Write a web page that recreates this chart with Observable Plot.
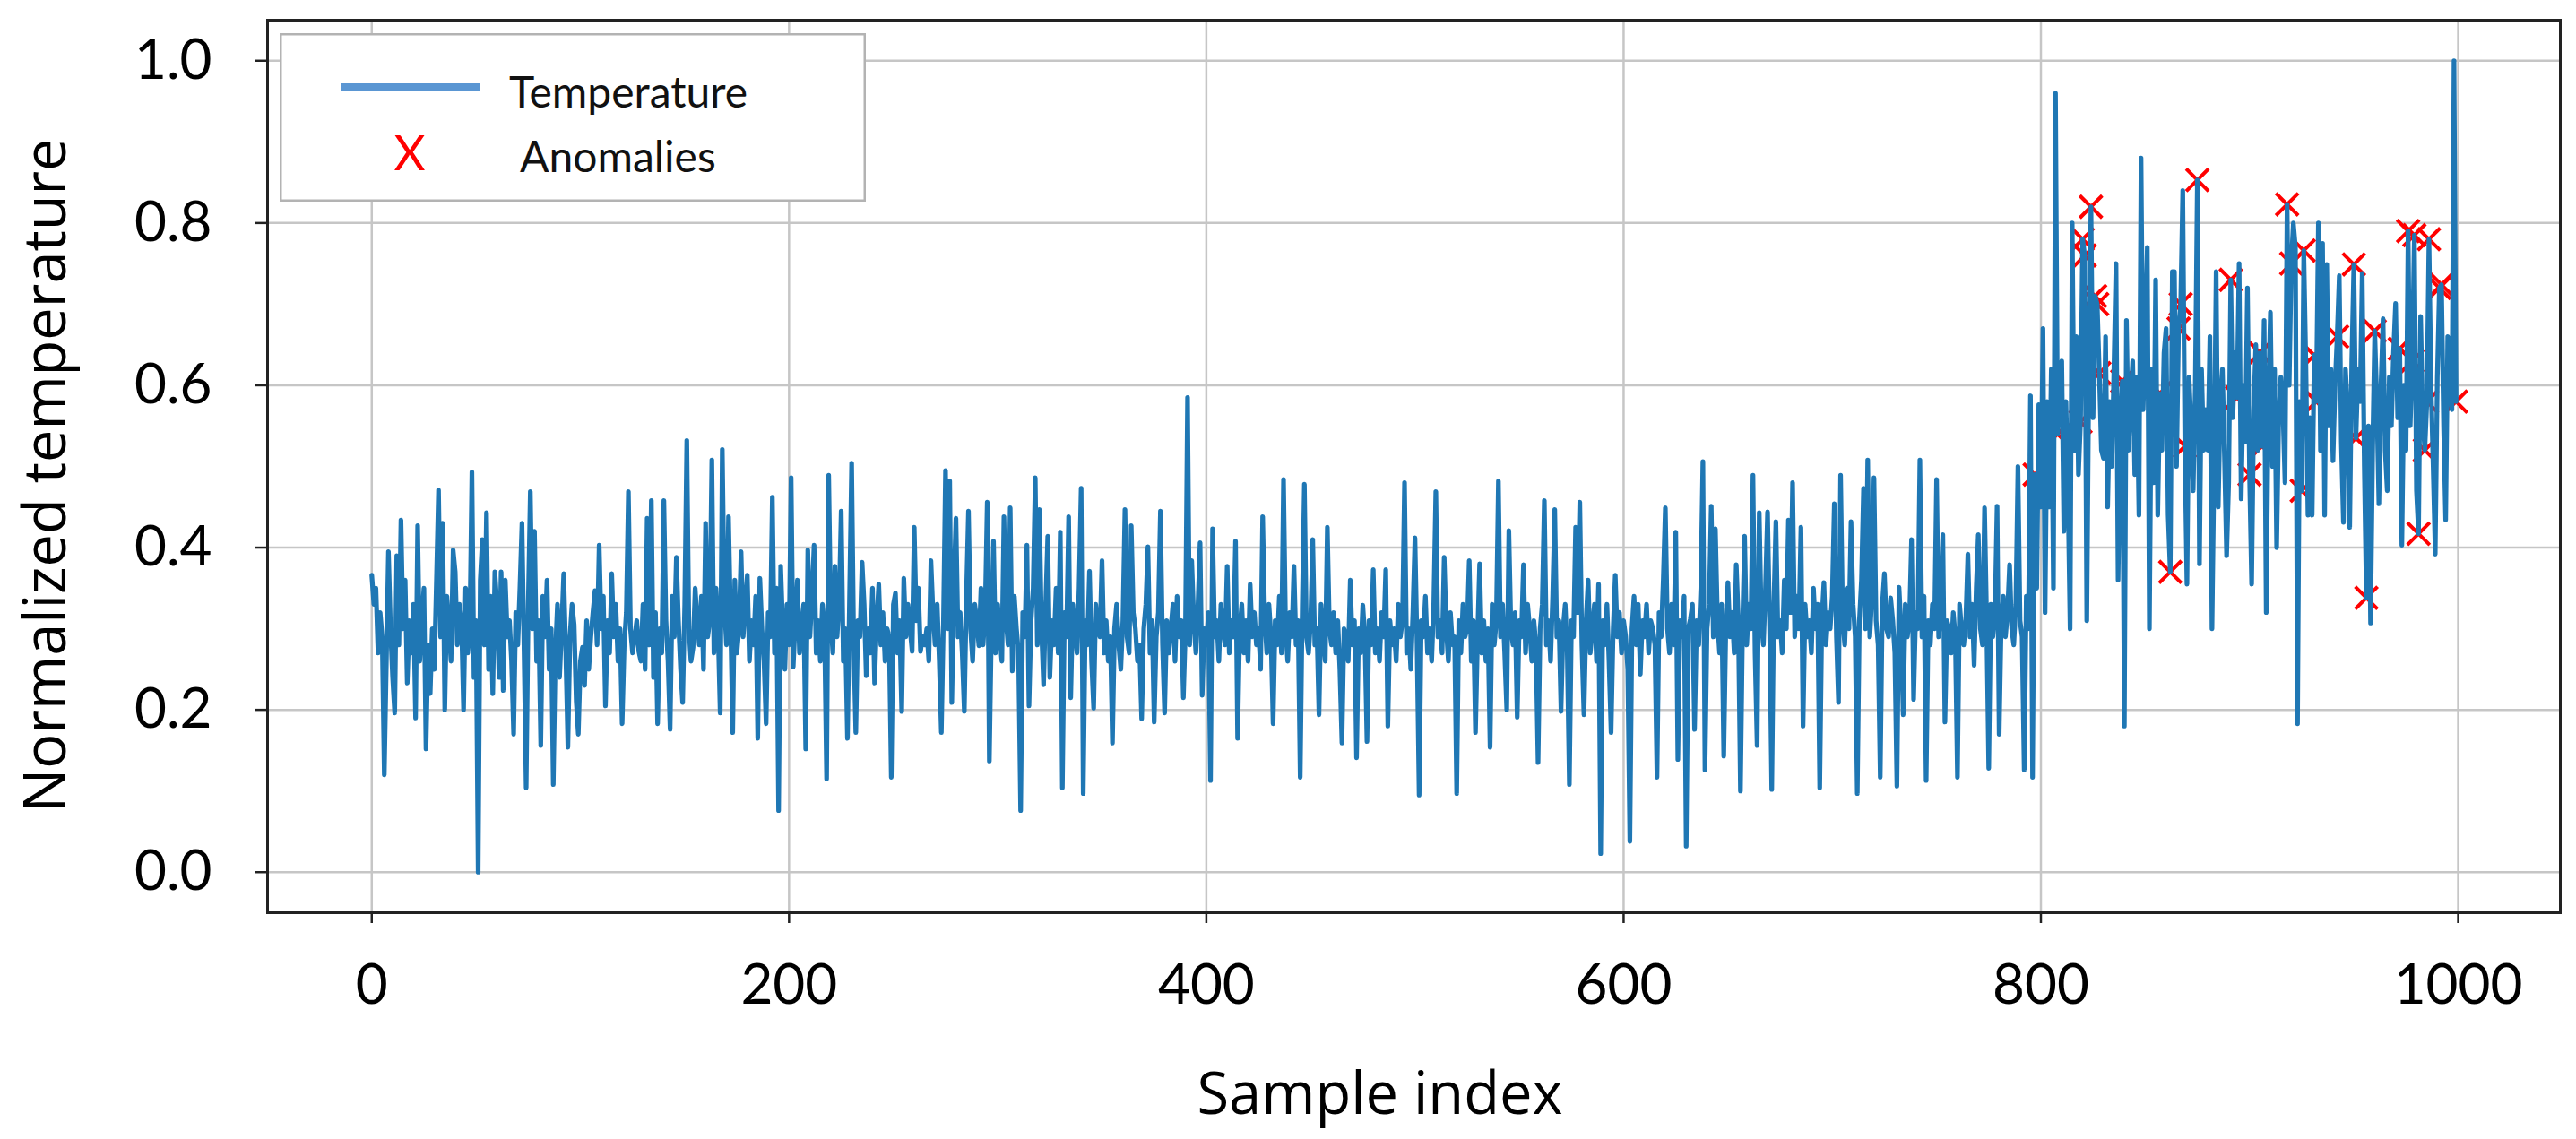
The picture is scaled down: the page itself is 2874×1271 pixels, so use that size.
<!DOCTYPE html>
<html>
<head>
<meta charset="utf-8">
<script src="https://cdn.jsdelivr.net/npm/d3@7"></script>
<script src="https://cdn.jsdelivr.net/npm/@observablehq/plot@0.6"></script>
<style>
  html, body { margin: 0; padding: 0; background: #ffffff; }
  #wrap { position: relative; width: 2874px; height: 1271px; background: #ffffff; }
  #legend { position: absolute; left: 312px; top: 37px; }
</style>
</head>
<body>
<div id="wrap"></div>
<script>
// Normalized temperature, samples 0..999
const temperature = [
  0.366,0.33,0.35,0.27,0.32,0.29,0.12,0.26,0.395,0.30,
  0.24,0.196,0.39,0.28,0.434,0.30,0.36,0.233,0.31,0.27,
  0.33,0.19,0.427,0.26,0.31,0.35,0.152,0.28,0.22,0.30,
  0.25,0.36,0.471,0.29,0.43,0.20,0.34,0.30,0.26,0.397,
  0.37,0.28,0.33,0.31,0.20,0.35,0.27,0.30,0.493,0.24,
  0.31,0.0,0.36,0.41,0.28,0.443,0.25,0.34,0.22,0.37,
  0.33,0.24,0.37,0.224,0.36,0.29,0.31,0.26,0.17,0.32,
  0.28,0.35,0.43,0.27,0.104,0.33,0.469,0.30,0.42,0.26,
  0.31,0.156,0.34,0.29,0.36,0.25,0.30,0.108,0.27,0.33,
  0.24,0.30,0.368,0.27,0.154,0.29,0.33,0.305,0.21,0.17,
  0.26,0.277,0.23,0.31,0.25,0.29,0.32,0.347,0.28,0.403,
  0.30,0.34,0.205,0.31,0.27,0.368,0.29,0.33,0.26,0.30,
  0.183,0.28,0.32,0.469,0.30,0.27,0.29,0.31,0.272,0.26,
  0.33,0.25,0.436,0.28,0.458,0.24,0.32,0.183,0.30,0.27,
  0.458,0.31,0.26,0.176,0.34,0.29,0.388,0.31,0.25,0.209,
  0.33,0.532,0.30,0.26,0.277,0.35,0.31,0.28,0.34,0.25,
  0.43,0.29,0.31,0.508,0.27,0.35,0.30,0.196,0.521,0.33,
  0.28,0.438,0.31,0.172,0.36,0.27,0.30,0.395,0.29,0.33,
  0.366,0.26,0.31,0.28,0.34,0.165,0.362,0.30,0.26,0.183,
  0.32,0.29,0.462,0.27,0.35,0.076,0.377,0.30,0.25,0.33,
  0.28,0.486,0.253,0.31,0.36,0.27,0.30,0.33,0.152,0.397,
  0.29,0.34,0.403,0.27,0.31,0.26,0.33,0.30,0.115,0.489,
  0.31,0.27,0.377,0.29,0.33,0.445,0.26,0.30,0.165,0.34,
  0.504,0.28,0.172,0.31,0.29,0.382,0.33,0.242,0.30,0.27,
  0.35,0.233,0.31,0.355,0.28,0.32,0.26,0.30,0.29,0.117,
  0.33,0.344,0.27,0.31,0.198,0.362,0.29,0.33,0.30,0.272,
  0.425,0.31,0.35,0.272,0.29,0.28,0.30,0.26,0.384,0.32,
  0.28,0.33,0.26,0.172,0.31,0.495,0.30,0.482,0.209,0.35,
  0.436,0.29,0.32,0.27,0.198,0.34,0.445,0.30,0.26,0.33,
  0.31,0.279,0.35,0.28,0.32,0.456,0.137,0.30,0.408,0.27,
  0.33,0.29,0.26,0.438,0.31,0.28,0.449,0.248,0.34,0.30,
  0.27,0.076,0.32,0.29,0.403,0.205,0.31,0.35,0.486,0.28,
  0.447,0.30,0.231,0.33,0.414,0.24,0.31,0.28,0.35,0.27,
  0.419,0.104,0.32,0.29,0.438,0.215,0.33,0.30,0.27,0.35,
  0.473,0.097,0.31,0.28,0.371,0.26,0.202,0.33,0.30,0.29,
  0.384,0.27,0.31,0.26,0.29,0.159,0.30,0.33,0.28,0.25,
  0.31,0.447,0.29,0.27,0.427,0.32,0.30,0.26,0.28,0.189,
  0.30,0.33,0.401,0.27,0.31,0.185,0.29,0.32,0.445,0.28,
  0.196,0.31,0.27,0.30,0.33,0.26,0.34,0.29,0.31,0.215,
  0.30,0.585,0.28,0.384,0.31,0.27,0.33,0.406,0.218,0.30,
  0.28,0.32,0.113,0.423,0.29,0.31,0.26,0.33,0.30,0.28,
  0.377,0.27,0.31,0.29,0.408,0.165,0.30,0.33,0.27,0.31,
  0.26,0.355,0.29,0.32,0.28,0.30,0.25,0.438,0.31,0.27,
  0.33,0.29,0.183,0.31,0.28,0.34,0.27,0.484,0.30,0.26,
  0.32,0.29,0.377,0.28,0.31,0.117,0.33,0.478,0.29,0.27,
  0.31,0.41,0.28,0.30,0.194,0.33,0.29,0.26,0.425,0.30,
  0.28,0.32,0.27,0.31,0.25,0.159,0.30,0.29,0.26,0.36,
  0.28,0.31,0.141,0.30,0.27,0.329,0.29,0.161,0.31,0.28,
  0.373,0.27,0.30,0.26,0.32,0.29,0.373,0.18,0.31,0.28,
  0.30,0.26,0.33,0.29,0.31,0.48,0.27,0.30,0.25,0.32,
  0.412,0.28,0.095,0.31,0.29,0.34,0.27,0.30,0.26,0.33,
  0.469,0.29,0.31,0.27,0.388,0.30,0.26,0.32,0.28,0.29,
  0.097,0.31,0.27,0.33,0.29,0.30,0.384,0.26,0.31,0.172,
  0.29,0.38,0.27,0.31,0.26,0.30,0.154,0.33,0.28,0.31,
  0.482,0.29,0.33,0.27,0.20,0.421,0.30,0.28,0.32,0.191,
  0.31,0.29,0.379,0.27,0.33,0.30,0.26,0.31,0.28,0.135,
  0.30,0.33,0.458,0.28,0.31,0.26,0.34,0.447,0.29,0.31,
  0.198,0.30,0.33,0.27,0.108,0.31,0.29,0.425,0.32,0.456,
  0.28,0.194,0.31,0.36,0.27,0.30,0.33,0.26,0.355,0.023,
  0.31,0.28,0.33,0.26,0.172,0.30,0.366,0.29,0.32,0.27,
  0.31,0.29,0.25,0.038,0.30,0.34,0.28,0.33,0.244,0.31,
  0.29,0.33,0.27,0.31,0.30,0.28,0.117,0.32,0.29,0.36,
  0.449,0.30,0.27,0.33,0.28,0.419,0.139,0.31,0.29,0.34,
  0.032,0.30,0.312,0.33,0.176,0.31,0.28,0.35,0.506,0.126,
  0.30,0.33,0.451,0.29,0.423,0.31,0.27,0.33,0.143,0.30,
  0.357,0.29,0.32,0.27,0.379,0.31,0.10,0.30,0.414,0.28,
  0.33,0.30,0.489,0.27,0.156,0.443,0.31,0.28,0.35,0.444,
  0.30,0.102,0.33,0.432,0.29,0.31,0.27,0.36,0.30,0.434,
  0.32,0.48,0.29,0.34,0.30,0.425,0.18,0.33,0.29,0.31,
  0.27,0.35,0.30,0.33,0.104,0.31,0.357,0.28,0.32,0.30,
  0.34,0.454,0.29,0.209,0.489,0.31,0.28,0.35,0.30,0.432,
  0.33,0.29,0.097,0.31,0.36,0.473,0.30,0.508,0.29,0.34,
  0.486,0.31,0.28,0.117,0.33,0.368,0.30,0.29,0.338,0.31,
  0.27,0.106,0.351,0.30,0.194,0.33,0.29,0.31,0.41,0.213,
  0.32,0.30,0.508,0.29,0.34,0.113,0.31,0.28,0.33,0.30,
  0.484,0.29,0.32,0.416,0.185,0.31,0.30,0.27,0.32,0.29,
  0.117,0.33,0.30,0.28,0.31,0.392,0.29,0.33,0.255,0.35,
  0.416,0.30,0.28,0.449,0.31,0.128,0.33,0.29,0.32,0.451,
  0.17,0.31,0.34,0.29,0.32,0.379,0.30,0.28,0.33,0.50,
  0.31,0.29,0.126,0.34,0.30,0.587,0.117,0.49,0.35,0.576,
  0.45,0.67,0.32,0.58,0.45,0.62,0.35,0.96,0.54,0.60,
  0.63,0.42,0.58,0.47,0.30,0.80,0.52,0.66,0.49,0.555,
  0.78,0.76,0.31,0.62,0.82,0.56,0.71,0.70,0.615,0.52,
  0.51,0.66,0.45,0.58,0.50,0.62,0.75,0.36,0.55,0.605,
  0.18,0.68,0.52,0.58,0.63,0.49,0.61,0.44,0.88,0.57,
  0.66,0.77,0.30,0.62,0.48,0.73,0.44,0.59,0.52,0.64,
  0.67,0.44,0.37,0.74,0.74,0.50,0.67,0.70,0.84,0.525,
  0.355,0.61,0.55,0.47,0.60,0.853,0.38,0.62,0.52,0.57,
  0.52,0.66,0.30,0.50,0.74,0.45,0.58,0.62,0.51,0.39,
  0.48,0.73,0.56,0.64,0.585,0.75,0.46,0.60,0.53,0.72,
  0.49,0.355,0.57,0.65,0.52,0.64,0.525,0.68,0.32,0.58,
  0.69,0.50,0.62,0.40,0.56,0.61,0.57,0.48,0.823,0.60,
  0.75,0.80,0.77,0.183,0.58,0.47,0.766,0.625,0.44,0.56,
  0.44,0.637,0.58,0.80,0.52,0.775,0.44,0.749,0.55,0.62,
  0.507,0.60,0.66,0.735,0.53,0.431,0.62,0.57,0.425,0.63,
  0.749,0.535,0.62,0.58,0.738,0.50,0.338,0.55,0.307,0.52,
  0.667,0.58,0.454,0.60,0.682,0.52,0.47,0.61,0.55,0.64,
  0.701,0.56,0.645,0.403,0.60,0.52,0.79,0.55,0.63,0.785,
  0.47,0.417,0.685,0.56,0.52,0.58,0.78,0.60,0.50,0.392,
  0.61,0.72,0.724,0.55,0.434,0.66,0.611,0.57,1.0,0.58
];

// Sample indices flagged as anomalies (red x markers)
const anomalyIndex = [797, 808, 819, 820, 821, 824, 826, 827, 828, 839, 857, 862, 866, 867, 869,
  875, 891, 894, 900, 905, 906, 918, 920, 925, 926, 931, 932, 942, 950, 951, 956, 960, 972,
  976, 978, 979, 981, 984, 985, 986, 991, 992, 999];

const xTicks = [0, 200, 400, 600, 800, 1000];
const xTickLabels = ["0", "200", "400", "600", "800", "1000"];
const yTicks = [0, 0.2, 0.4, 0.6, 0.8, 1.0];
const yTickLabels = ["0.0", "0.2", "0.4", "0.6", "0.8", "1.0"];
const seriesNames = ["Temperature", "Anomalies"];
const xLabel = "Sample index";
const yLabel = "Normalized temperature";

const series = temperature.map((v, i) => ({i, v}));
const anomalies = anomalyIndex.map(i => ({i, v: temperature[i]}));

const chart = Plot.plot({
  width: 2874,
  height: 1271,
  marginLeft: 298,
  marginRight: 18,
  marginTop: 22,
  marginBottom: 253,
  style: {fontFamily: "Lato, 'Liberation Sans', sans-serif", fontSize: "62px", background: "#ffffff", color: "#000000"},
  x: {domain: [-49.95, 1048.95]},
  y: {domain: [-0.05, 1.05]},
  marks: [
    Plot.gridX(xTicks, {stroke: "#c6c6c6", strokeOpacity: 1, strokeWidth: 2.5}),
    Plot.gridY(yTicks, {stroke: "#c6c6c6", strokeOpacity: 1, strokeWidth: 2.5}),
    Plot.dot(anomalies, {x: "i", y: "v", symbol: "times", r: 11.4, stroke: "#ff0000", strokeWidth: 4, fill: "none"}),
    Plot.line(series, {x: "i", y: "v", stroke: "#1f77b4", strokeWidth: 5.2, strokeLinejoin: "round"}),
    Plot.frame({stroke: "#222222", strokeWidth: 3}),
    Plot.axisX(xTicks, {tickSize: 12, tickPadding: 45, strokeWidth: 2.5, stroke: "#222222", label: null,
      tickFormat: d => xTickLabels[xTicks.indexOf(d)]}),
    Plot.axisY(yTicks, {tickSize: 13, tickPadding: 49, strokeWidth: 2.5, stroke: "#222222", label: null,
      tickFormat: d => yTickLabels[yTicks.indexOf(d)]}),
    Plot.text([xLabel], {text: d => d, frameAnchor: "bottom", lineAnchor: "bottom", textAnchor: "middle", dx: -38, dy: 224,
      fontFamily: "'Open Sans', 'Noto Sans', sans-serif", fontSize: 65, fill: "#000000"}),
    Plot.text([yLabel], {text: d => d, frameAnchor: "left", lineAnchor: "bottom", textAnchor: "middle", rotate: -90, dx: -226, dy: 10,
      fontFamily: "'Open Sans', 'Noto Sans', sans-serif", fontSize: 65, fill: "#000000"})
  ]
});

const wrap = document.getElementById("wrap");
wrap.appendChild(chart);

// Legend box (upper left, inside the axes)
const ns = "http://www.w3.org/2000/svg";
const leg = document.createElementNS(ns, "svg");
leg.setAttribute("id", "legend");
leg.setAttribute("width", 654);
leg.setAttribute("height", 188);
leg.innerHTML = `
  <rect x="1.25" y="1.25" width="651.5" height="185.5" fill="#ffffff" stroke="#b3b3b3" stroke-width="2.5"></rect>
  <line x1="69" x2="224" y1="60" y2="60" stroke="#5a96d3" stroke-width="8"></line>
  <text x="256" y="83" font-family="Lato, sans-serif" font-size="48" fill="#111">${seriesNames[0]}</text>
  <text x="145" y="153" text-anchor="middle" font-family="Lato, sans-serif" font-size="54" fill="#ff0000">X</text>
  <text x="268" y="155" font-family="Lato, sans-serif" font-size="48" fill="#111">${seriesNames[1]}</text>
`;
wrap.appendChild(leg);
</script>
</body>
</html>
